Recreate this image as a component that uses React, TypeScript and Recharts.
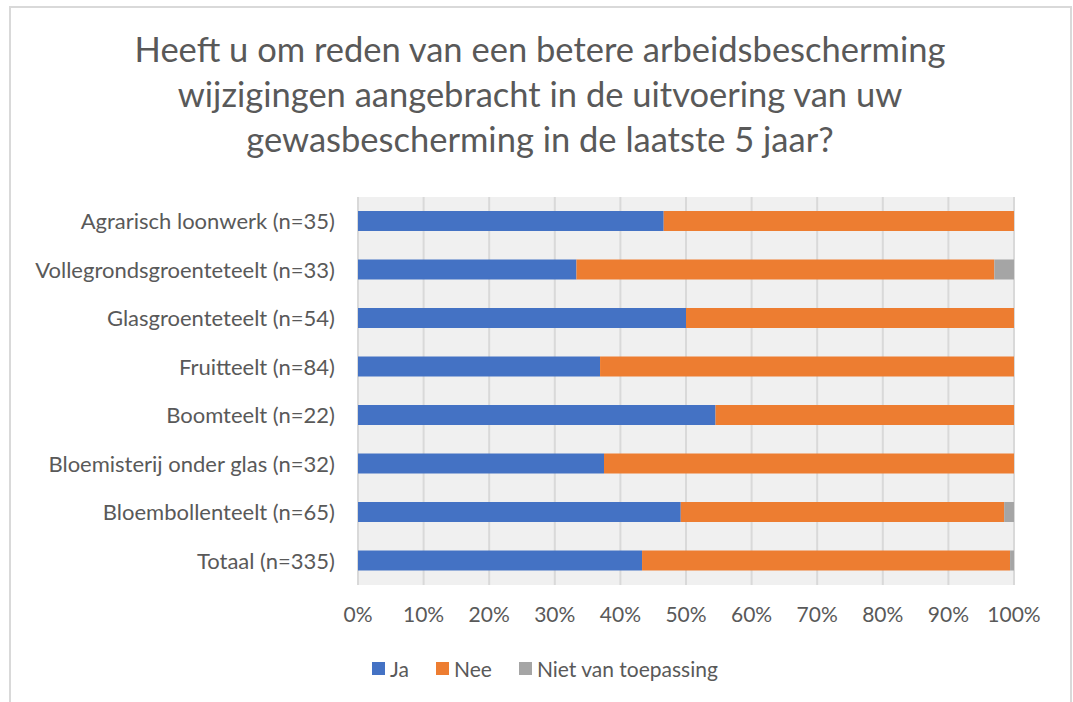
import { BarChart, Bar, XAxis, YAxis, CartesianGrid, Legend } from 'recharts'

const categories = [
  'Agrarisch loonwerk (n=35)',
  'Vollegrondsgroenteteelt (n=33)',
  'Glasgroenteteelt (n=54)',
  'Fruitteelt (n=84)',
  'Boomteelt (n=22)',
  'Bloemisterij onder glas (n=32)',
  'Bloembollenteelt (n=65)',
  'Totaal (n=335)',
]
const ja = [46.6, 33.3, 50.0, 36.9, 54.5, 37.5, 49.2, 43.3]
const nee = [53.4, 63.7, 50.0, 63.1, 45.5, 62.5, 49.3, 56.1]
const niet = [0, 3.0, 0, 0, 0, 0, 1.5, 0.6]
const ticks = [0, 10, 20, 30, 40, 50, 60, 70, 80, 90, 100]

const titleLines = [
  'Heeft u om reden van een betere arbeidsbescherming',
  'wijzigingen aangebracht in de uitvoering van uw',
  'gewasbescherming in de laatste 5 jaar?',
]

const data = categories.map((name, i) => ({ name, ja: ja[i], nee: nee[i], niet: niet[i] }))

const font = 'Lato, "Open Sans", sans-serif'
const grey = '#595959'

function LegendContent({ payload }: any) {
  const items = payload || []
  return (
    <div style={{ display: 'flex', justifyContent: 'center', height: 24, alignItems: 'center', fontFamily: font, fontSize: 21, color: grey, transform: 'translateX(29px)' }}>
      {items.map((p: any, i: number) => (
        <div key={p.value} style={{ display: 'flex', alignItems: 'center', marginRight: i < items.length - 1 ? 27 : 0 }}>
          <span style={{ width: 13, height: 13, background: p.color, marginRight: 5, display: 'inline-block' }} />
          <span>{p.value}</span>
        </div>
      ))}
    </div>
  )
}

export default function App() {
  return (
    <div style={{ position: 'absolute', left: 0, top: 0, width: 1073, height: 702, background: '#fff', overflow: 'hidden' }}>
      <div style={{ position: 'absolute', left: 9, top: 6, width: 1059, height: 720, border: '2px solid #d9d9d9' }} />
      <div style={{ position: 'absolute', left: 10, top: 26, width: 1060, textAlign: 'center', fontFamily: font, fontSize: 34.5, lineHeight: '45px', color: grey }}>
        {titleLines.map((l) => (
          <div key={l}>{l}</div>
        ))}
      </div>
      <div style={{ position: 'absolute', left: 0, top: 0 }}>
        <BarChart
          width={1073}
          height={702}
          data={data}
          layout="vertical"
          barSize={20}
          margin={{ top: 197, right: 59, bottom: 22, left: 18 }}
        >
          <CartesianGrid horizontal={false} stroke="#d9d9d9" strokeWidth={2} fill="#f0f0f0" />
          <XAxis
            type="number"
            domain={[0, 100]}
            ticks={ticks}
            tickFormatter={(v) => `${v}%`}
            axisLine={false}
            tickLine={false}
            tickSize={0}
            tickMargin={22}
            height={71}
            interval={0}
            tick={{ fill: grey, fontSize: 21, fontFamily: font }}
          />
          <YAxis
            type="category"
            dataKey="name"
            width={340}
            axisLine={false}
            tickLine={false}
            tickSize={0}
            tickMargin={23}
            interval={0}
            tick={{ fill: grey, fontSize: 22, fontFamily: font }}
          />
          <Legend verticalAlign="bottom" content={<LegendContent />} />
          <Bar dataKey="ja" name="Ja" stackId="a" fill="#4472C4" isAnimationActive={false} />
          <Bar dataKey="nee" name="Nee" stackId="a" fill="#ED7D31" isAnimationActive={false} />
          <Bar dataKey="niet" name="Niet van toepassing" stackId="a" fill="#A5A5A5" isAnimationActive={false} />
        </BarChart>
      </div>
    </div>
  )
}
